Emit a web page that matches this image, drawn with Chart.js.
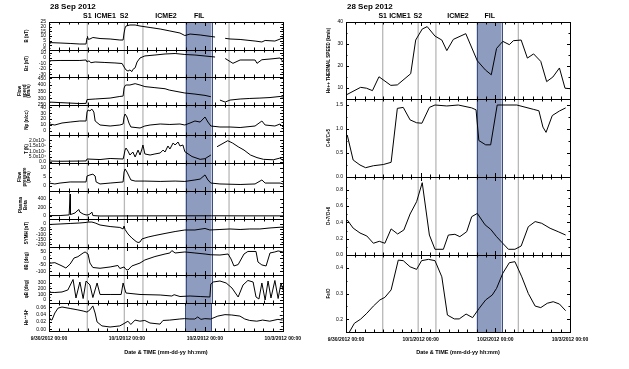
<!DOCTYPE html>
<html>
<head>
<meta charset="utf-8">
<script src="https://cdn.jsdelivr.net/npm/chart.js@4.4.1/dist/chart.umd.min.js"></script>
<style>
  body { margin: 0; background: #fff; width: 629px; height: 369px; overflow: hidden; position: relative; }
  .p { position: absolute; }
</style>
</head>
<body>
<script>
// hours since 9/30/2012 00:00
const xTickLabels = ['9/30/2012 00:00', '10/1/2012 00:00', '10/2/2012 00:00', '10/3/2012 00:00'];
const dateTitle = '28 Sep 2012';
const headLabels = ['S1', 'ICME1', 'S2', 'ICME2', 'FIL'];
const headHours = [11.8, 17.3, 23.1, 36, 46.2];
const eventLines = [11.8, 23.2, 28.9, 55.4];
const filSpan = [42, 50];

// left column
const bT = [0, 3.4, 6.5, 9.5, 11.4, 11.7, 11.85, 12, 12.6, 13.5, 15.7, 18.8, 21.8, 22.8, 23.1, 23.4, 23.7, 24.9, 26.5, 28, 31.1, 34.2, 37.2, 40.3, 41.8, 43.4, 46.5, 49.8, 51.1, 52, 54.2, 55.7, 58.8, 63.4, 65.5, 66.5, 69.5, 72];
const bV = [3, 2.5, 2, 1.4, 1.4, 7.9, 9.5, 6.5, 6.8, 8.4, 7.3, 6.8, 5.7, 5.7, 13.2, 18.6, 20.7, 21.8, 21.8, 20.7, 19.1, 17.5, 15.4, 13.2, 10.5, 12.1, 11.1, 9.5, 8.9, null, 7.5, 6.8, 6.3, 4.6, 3.6, 5.2, 4.6, 7.9];
const bTicks = [-5, 0, 5, 10, 15, 20, 25];

const bzT = [0, 3.4, 9.5, 11.4, 11.7, 12.3, 12.9, 14.2, 17.2, 20.3, 22.5, 23.1, 23.7, 24.3, 24.9, 25.5, 25.8, 26.5, 27.1, 28, 29.5, 32.6, 35.7, 38.8, 41.8, 44.9, 48, 51.1, 52, 54.2, 56.6, 58.8, 63.4, 64, 65.5, 68, 71.1, 72];
const bzV = [-4.8, -4.4, -4.4, -3.5, -7.2, -5, -8.5, -7.2, -8.1, -9, -10, -16.5, -22, -24, -22, -25, -21, -18, -7.2, 0.2, 4, 5.7, 7.6, 8.5, 6.7, 5.7, 3.9, 2, null, -0.7, -9.7, -3.5, -3.5, -9.7, -3, -1.7, 0.2, -6.6];
const bzTicks = [-30, -20, -10, 0, 10];

const vT = [0, 3.4, 9.5, 11.4, 11.7, 14.2, 18.8, 21.8, 22.8, 23.1, 23.4, 23.7, 24.9, 26.5, 28, 29.5, 32.6, 35.7, 37, 41.8, 44.9, 48, 49.8, 51, 52.6, 54.2, 55.7, 58.8, 61.8, 64.9, 68, 71.1, 72];
const vV = [272, 268, 261, 262, 291, 295, 302, 314, 317, 377, 395, 400, 400, 410, 400, 388, 380, 372, 362, 340, 332, 322, 312, null, 287, 272, 287, 295, 299, 302, 306, 314, 310];
const vTicks = [250, 300, 350, 400, 450];

const npT = [0, 1.8, 4, 6.5, 9.5, 11.4, 11.7, 12, 12.6, 13.2, 13.8, 14.2, 15.7, 18.8, 21.8, 22.8, 23.1, 23.4, 24, 24.6, 25.2, 28, 29.5, 31.1, 34.2, 37.2, 40.3, 41.8, 43.4, 44.9, 46.5, 48, 48.9, 49.8, 52.6, 55.7, 58.8, 63.4, 65.5, 66.5, 69.5, 71.1, 72];
const npV = [11.7, 10, 13.4, 15, 16.8, 16.8, 32, 35.5, 34, 37, 32, 16.8, 10, 8.3, 10, 11.7, 23.6, 28.7, 23.6, 13.4, 6.6, 4.9, 8.3, 10, 11.7, 10.9, 11.7, 10, 13.4, 16.8, 15, 23.6, 15, 8.3, 6.6, 6.6, 5.7, 8.3, 16.8, 10, 8.3, 11.7, 6.6];
const npTicks = [0, 10, 20, 30, 40];

const tT = [0, 3.4, 9.5, 11.4, 11.7, 15.7, 18.8, 22.8, 23.1, 23.4, 23.7, 24.3, 24.9, 25.8, 26.5, 27.4, 28, 28.6, 28.9, 29.5, 31.1, 32.6, 34.2, 35.1, 35.7, 36.6, 37.2, 38.2, 38.8, 39.7, 40.3, 41.2, 41.8, 44, 46.5, 48, 49.8, 50.8, 51.7, 55, 56.5, 58.2, 60, 62, 64, 66, 69, 71, 72];
const tV = [8500, 6000, 8000, 9000, 27000, 22000, 32000, 27000, 64000, 110000, 129000, 101000, 64000, 92000, 46000, 110000, 64000, 120000, 157000, 74000, 64000, 74000, 83000, 110000, 92000, 148000, 120000, 176000, 157000, 185000, 148000, 157000, 95000, 50000, 24000, 30000, 64000, null, 141000, 197000, 175000, 141000, 110000, 64000, 40000, 24000, 20000, 35000, 15000];
const tTicks = [0, 50000, 100000, 150000, 200000];

const pT = [0, 1.8, 3.4, 6.5, 11.4, 11.7, 12.6, 13.5, 14.2, 14.5, 15.7, 18.8, 22.8, 23.1, 23.4, 24, 24.6, 25.2, 26.5, 29.5, 34.2, 38.8, 41.8, 44.9, 46.5, 48, 48.9, 49.8, 52.6, 58.8, 63.4, 65.5, 66.5, 71.1, 72];
const pV = [1.4, 0.9, 1.4, 2, 2, 5.3, 5.9, 6.3, 5.3, 2, 0.9, 1.4, 2, 7.5, 9.2, 7.5, 5.3, 3.1, 2.5, 2.5, 2.3, 2.5, 2.3, 3.1, 3.6, 5.9, 3.1, 1.4, 0.9, 0.6, 0.9, 3.1, 1.4, 1.4, 0.9];
const pTicks = [0, 5, 10];

const betaT = [0, 3.4, 6.2, 6.5, 6.6, 7.1, 8, 8.6, 9.2, 9.5, 10.5, 11.4, 12, 12.6, 13.2, 13.5, 15.7, 30, 50, 60, 72];
const betaV = [10, 10, 25, 510, 35, 45, 70, 115, 150, 90, 45, 25, 25, 45, 90, 10, 0, 3, 5, 3, 3];
const betaTicks = [0, 200, 400];

const symT = [0, 3.4, 6.5, 9.5, 11.4, 12, 13.2, 14.2, 15.7, 18.8, 21.8, 22.8, 23.1, 23.4, 24.3, 25.5, 26.8, 27.4, 28, 28.6, 30.5, 32.6, 35.7, 38.8, 41.8, 44.9, 48, 49.5, 52.6, 55.7, 58.8, 61.8, 64.9, 68, 72];
const symV = [-4, 1, 6, 11, 16, 20, 20, 11, -9, -24, -33, -48, -19, -53, -97, -137, -171, -181, -176, -146, -127, -112, -92, -73, -58, -58, -43, -58, -53, -48, -53, -48, -48, -38, -29];
const symTicks = [-200, -150, -100, -50, 0];

const thT = [0, 1.8, 4, 5.2, 6.5, 7.7, 8.9, 10.5, 11.1, 12, 12.6, 13.5, 15.7, 18.8, 21.2, 21.8, 23.1, 23.7, 24.3, 25.5, 28, 29.5, 32.6, 35.7, 37.2, 37.8, 38.8, 41.8, 44.9, 48, 49.8, 52.6, 55.1, 56, 56.9, 58.2, 60, 61.2, 63.7, 64.3, 65.5, 66.8, 68, 69.5, 70.5, 72];
const thV = [-38, -33, -59, -75, -44, 3.5, 14, 43, 51, 35, -36, -71, -77, -67, -55, -79, -67, -87, -91, -59, -36, -12, 15, 35, 43, 62, 43, 51, 43, 35, 29, 27, 35, -4, -59, -48, 35, 55, 55, -28, -51, -59, 43, 51, 59, 51];
const thTicks = [-100, -50, 0, 50];

const phT = [0, 1.8, 4, 5.8, 7.4, 8.3, 9.5, 10.5, 11.4, 12.6, 13.5, 14.8, 15.7, 18.8, 22.2, 22.8, 23.4, 23.7, 28, 34.2, 37.8, 38.5, 40.3, 43.4, 46.5, 49.5, 49.8, 50.5, 52.6, 54.5, 56.3, 58.2, 59.7, 61.2, 62.8, 63.7, 64.6, 65.5, 66.5, 67.4, 68.3, 69.5, 70.5, 71.4, 72];
const phV = [133, 130, 139, 173, 353, 36, 310, 27, 327, 259, 44, 293, 96, 96, 96, 293, 173, 121, 96, 87, 70, 92, 61, 70, 61, 53, 276, 310, 327, 293, 207, 53, 259, 336, 310, 53, 19, 293, 1, 327, 36, 336, 27, 293, 173];
const phTicks = [0, 100, 200, 300];

const heT = [0, 0.9, 1.8, 2.8, 4, 6.5, 8.9, 10.5, 11.7, 12.6, 13.5, 14.2, 14.8, 16.3, 18.8, 21.8, 23.4, 24.3, 25.2, 26.5, 28, 29.5, 31.1, 34.2, 35.1, 37.2, 40.3, 41.8, 43.4, 44.9, 45.8, 46.8, 48, 49.8, 52, 54.2, 56.3, 58.8, 60.3, 61.8, 64, 65.8, 68, 70.5, 72];
const heV = [0.028, 0.025, 0.0445, 0.058, 0.061, 0.057, 0.053, 0.05, 0.047, 0.053, 0.064, 0.0445, 0.02, 0.009, 0.006, 0.009, 0.017, 0.022, 0.013, 0.025, 0.022, 0.024, 0.017, 0.014, 0.024, 0.025, 0.028, 0.029, 0.028, 0.028, 0.0335, 0.027, 0.029, 0.028, 0.036, 0.04, 0.039, 0.036, 0.028, 0.024, 0.022, 0.025, 0.022, 0.027, 0.025];
const heTicks = [0, 0.02, 0.04, 0.06];

// right column
const thermT = [0, 4.7, 6.6, 8.5, 10.6, 14.4, 16.5, 20.8, 22.4, 24.5, 26.1, 28.6, 30.8, 32.4, 34.5, 38.5, 42.2, 44.8, 46.7, 48.4, 50.4, 52.5, 53.8, 56.3, 58.3, 60.3, 62.6, 64.5, 66.5, 68.6, 70.4, 72];
const thermV = [6.8, 10.3, 9.9, 8.8, 15.1, 11.2, 11.4, 16.5, 31.8, 36.8, 37.9, 33.6, 31.8, 27, 32.1, 34.7, 22.4, 18.2, 16, 28, 31.2, 29.7, 31.5, 31.8, 23.6, 25.5, 22.1, 12.9, 15, 19.1, 9.9, 9.7];
const thermTicks = [10, 20, 30, 40];

const cT = [0.4, 2.3, 4.5, 6.3, 8.8, 12, 14.5, 16.5, 18.4, 20.6, 22.7, 24.4, 26.8, 28.6, 32.4, 36.1, 40.4, 41.8, 42.7, 44.9, 46.5, 48.6, 54.9, 60.2, 62, 63.3, 64.3, 66.3, 68.6, 70.6];
const cV = [0.875, 0.354, 0.25, 0.194, 0.235, 0.26, 0.306, 1.43, 1.45, 1.19, 1.13, 1.12, 1.45, 1.5, 1.48, 1.5, 1.44, 1.4, 0.76, 0.67, 0.67, 1.5, 1.5, 1.41, 1.38, 1.04, 0.93, 1.28, 1.375, 1.44];
const cTicks = [0, 0.5, 1, 1.5];

const oT = [0.4, 2.3, 4.5, 6.7, 8.8, 10.7, 12.5, 14.5, 16.6, 18.6, 20.6, 22.7, 24.5, 26.8, 28.6, 31.3, 32.9, 35, 36.6, 38.8, 40.4, 42.2, 44.7, 46.5, 48.4, 50.2, 52.2, 54.3, 56.3, 58.6, 60.8, 62.9, 65.6, 68.2, 70.6];
const oV = [0.43, 0.33, 0.27, 0.233, 0.144, 0.168, 0.144, 0.32, 0.258, 0.307, 0.503, 0.654, 0.887, 0.245, 0.07, 0.07, 0.245, 0.254, 0.225, 0.286, 0.47, 0.51, 0.37, 0.315, 0.225, 0.151, 0.07, 0.07, 0.11, 0.347, 0.41, 0.389, 0.328, 0.286, 0.245];
const oTicks = [0, 0.2, 0.4, 0.6, 0.8];

const feT = [0.3, 1, 2.7, 4.7, 6.7, 8.8, 10.9, 12.5, 14.5, 16.8, 18.4, 20.6, 22.7, 24.3, 26.5, 28.6, 30.8, 32.6, 34.8, 36.4, 38.6, 40.7, 42.8, 44.9, 47, 48.4, 50.4, 52.5, 54.3, 56.5, 58.6, 60.8, 62.6, 64.7, 66.6, 68.6, 70.6];
const feV = [0.13, 0.148, 0.184, 0.2, 0.223, 0.251, 0.275, 0.285, 0.314, 0.43, 0.428, 0.404, 0.394, 0.428, 0.433, 0.428, 0.365, 0.216, 0.201, 0.201, 0.22, 0.206, 0.242, 0.275, 0.294, 0.32, 0.379, 0.42, 0.424, 0.365, 0.3, 0.251, 0.245, 0.262, 0.268, 0.259, 0.233];
const feTicks = [0.2, 0.3, 0.4];

Chart.defaults.font.family = '"Liberation Sans", Arial, sans-serif';
Chart.defaults.color = '#000';

const decor = {
  id: 'decor',
  beforeDatasetsDraw(chart) {
    const { ctx, chartArea: a } = chart;
    const x = chart.scales.x;
    const f0 = x.getPixelForValue(filSpan[0]);
    const f1 = x.getPixelForValue(filSpan[1]);
    ctx.save();
    ctx.fillStyle = '#8e9cc0';
    ctx.fillRect(f0, a.top, f1 - f0, a.bottom - a.top);
    ctx.strokeStyle = '#3b4c7e';
    ctx.lineWidth = 1;
    ctx.beginPath();
    [f0, f1].forEach(px => {
      ctx.moveTo(Math.round(px) + 0.5, a.top);
      ctx.lineTo(Math.round(px) + 0.5, a.bottom);
    });
    ctx.stroke();
    ctx.strokeStyle = '#b8b8b8';
    ctx.lineWidth = 1.3;
    ctx.beginPath();
    eventLines.forEach(h => {
      const px = x.getPixelForValue(h);
      ctx.moveTo(px, a.top);
      ctx.lineTo(px, a.bottom);
    });
    ctx.stroke();
    ctx.restore();
  },
  afterDatasetsDraw(chart) {
    const { ctx, chartArea: a } = chart;
    const x = chart.scales.x, y = chart.scales.y;
    ctx.save();
    ctx.strokeStyle = '#000';
    ctx.lineWidth = 1;
    ctx.strokeRect(Math.round(a.left) + 0.5, Math.round(a.top) + 0.5, Math.round(a.right - a.left), Math.round(a.bottom - a.top));
    ctx.beginPath();
    for (let h = 0; h <= 72; h += 3) {
      const px = Math.round(x.getPixelForValue(h)) + 0.5;
      const len = h % 24 === 0 ? 4 : 2.5;
      ctx.moveTo(px, a.top); ctx.lineTo(px, a.top + len);
      ctx.moveTo(px, a.bottom); ctx.lineTo(px, a.bottom - len);
    }
    const tv = y.ticks.map(t => t.value);
    tv.forEach((v, i) => {
      const py = Math.round(y.getPixelForValue(v)) + 0.5;
      ctx.moveTo(a.left, py); ctx.lineTo(a.left + 3, py);
      ctx.moveTo(a.right, py); ctx.lineTo(a.right - 3, py);
      if (i > 0) {
        const pm = Math.round(y.getPixelForValue((v + tv[i - 1]) / 2)) + 0.5;
        ctx.moveTo(a.left, pm); ctx.lineTo(a.left + 1.5, pm);
        ctx.moveTo(a.right, pm); ctx.lineTo(a.right - 1.5, pm);
      }
    });
    ctx.stroke();
    ctx.restore();
  },
  afterDraw(chart, args, opts) {
    if (!opts.header) return;
    const { ctx, chartArea: a } = chart;
    const x = chart.scales.x;
    ctx.save();
    ctx.fillStyle = '#000';
    ctx.textBaseline = 'middle';
    ctx.textAlign = 'left';
    ctx.font = 'bold 8px "Liberation Sans", Arial, sans-serif';
    ctx.fillText(dateTitle, a.left + 1, 7);
    ctx.font = 'bold 7px "Liberation Sans", Arial, sans-serif';
    ctx.textAlign = 'center';
    headLabels.forEach((s, i) => ctx.fillText(s, x.getPixelForValue(headHours[i]), 16));
    ctx.restore();
  }
};

function addPanel(p) {
  const padTop = p.head ? p.top : 6;
  const xh = p.last ? 369 - p.bottom : 0;
  const padBot = p.last ? 0 : 6;
  const h = (p.bottom - p.top) + padTop + (p.last ? xh : padBot);
  const div = document.createElement('div');
  div.className = 'p';
  div.style.left = p.left + 'px';
  div.style.top = (p.top - padTop) + 'px';
  div.style.width = p.width + 'px';
  div.style.height = h + 'px';
  const cv = document.createElement('canvas');
  div.appendChild(cv);
  document.body.appendChild(div);

  new Chart(cv, {
    type: 'line',
    data: {
      datasets: [{
        data: p.times.map((t, i) => ({ x: t, y: p.vals[i] })),
        borderColor: '#000',
        borderWidth: 1,
        pointRadius: 0,
        tension: 0,
        spanGaps: false
      }]
    },
    options: {
      responsive: true,
      maintainAspectRatio: false,
      animation: false,
      devicePixelRatio: 1,
      layout: { padding: { top: padTop, bottom: padBot, left: 0, right: p.padR } },
      plugins: {
        legend: { display: false },
        tooltip: { enabled: false },
        decor: { header: !!p.head }
      },
      scales: {
        x: {
          type: 'linear', min: 0, max: 72,
          display: !!p.last,
          grid: { display: false, drawTicks: false },
          border: { display: false },
          afterBuildTicks: s => { s.ticks = xTickLabels.map((l, i) => ({ value: i * 24 })); },
          ticks: {
            autoSkip: false, maxRotation: 0, padding: 5,
            font: { size: 5, weight: 'bold' },
            callback: (v, i) => xTickLabels[i]
          },
          title: {
            display: true, text: 'Date & TIME (mm-dd-yy hh:mm)',
            font: { size: 5.5, weight: 'bold' }, padding: { top: 0, bottom: 13 }
          },
          afterFit: s => { if (p.last) s.height = xh; }
        },
        y: {
          type: 'linear', min: p.min, max: p.max,
          grid: { display: false, drawTicks: false },
          border: { display: false },
          afterBuildTicks: s => { s.ticks = p.ticks.map(v => ({ value: v })); },
          ticks: {
            autoSkip: false, padding: 3,
            font: { size: 5 },
            callback: p.fmt || (v => v)
          },
          title: {
            display: true, text: p.title,
            font: { size: 4.5, weight: 'bold', lineHeight: 1 },
            padding: { top: p.titlePad, bottom: 0 }
          },
          afterFit: s => { s.width = p.yw; }
        }
      }
    },
    plugins: [decor]
  });
}

const fmtT = v => v === 0 ? '0.0' : v < 100000 ? (v / 10000).toFixed(1) + 'x10\u2074' : (v / 100000).toFixed(1) + 'x10\u2075';
const fmt1 = v => v.toFixed(1);
const fmt2 = v => v.toFixed(2);

const L = { left: 0, width: 306, yw: 49, padR: 23 };
const R = { left: 300, width: 329, yw: 46, padR: 59 };

const leftPanels = [
  { top: 22, bottom: 50, times: bT, vals: bV, ticks: bTicks, min: -5, max: 25, title: 'B (nT)', titlePad: 25, head: true },
  { top: 50, bottom: 77, times: bzT, vals: bzV, ticks: bzTicks, min: -35, max: 15, title: 'Bz (nT)', titlePad: 25 },
  { top: 77, bottom: 105, times: vT, vals: vV, ticks: vTicks, min: 250, max: 460, title: ['Flow', 'speed', '(km/s)'], titlePad: 18 },
  { top: 105, bottom: 135, times: npT, vals: npV, ticks: npTicks, min: -7, max: 44, title: 'Np (n/cc)', titlePad: 25 },
  { top: 135, bottom: 163, times: tT, vals: tV, ticks: tTicks, min: -10000, max: 250000, title: 'T (K)', titlePad: 25, fmt: fmtT },
  { top: 163, bottom: 191, times: pT, vals: pV, ticks: pTicks, min: -3, max: 12.5, title: ['Flow', 'pressure', '(nPa)'], titlePad: 18 },
  { top: 191, bottom: 219, times: betaT, vals: betaV, ticks: betaTicks, min: -70, max: 580, title: ['Plasma', 'Beta'], titlePad: 19 },
  { top: 219, bottom: 247, times: symT, vals: symV, ticks: symTicks, min: -225, max: 50, title: 'SYMH (nT)', titlePad: 25 },
  { top: 247, bottom: 275, times: thT, vals: thV, ticks: thTicks, min: -130, max: 90, title: '\u03b8B (deg)', titlePad: 25 },
  { top: 275, bottom: 303, times: phT, vals: phV, ticks: phTicks, min: -50, max: 430, title: '\u03c6B (deg)', titlePad: 25 },
  { top: 303, bottom: 331, times: heT, vals: heV, ticks: heTicks, min: -0.005, max: 0.072, title: 'He\u207a\u207a/H\u207a', titlePad: 25, fmt: fmt2, last: true }
];

const rightPanels = [
  { top: 22, bottom: 99, times: thermT, vals: thermV, ticks: thermTicks, min: 5, max: 40, title: 'He++ THERMAL SPEED (km/s)', titlePad: 27, head: true },
  { top: 99, bottom: 177, times: cT, vals: cV, ticks: cTicks, min: 0, max: 1.625, title: 'C+6/C+5', titlePad: 27, fmt: fmt1 },
  { top: 177, bottom: 255, times: oT, vals: oV, ticks: oTicks, min: 0, max: 0.957, title: 'O+7/O+6', titlePad: 27, fmt: fmt1 },
  { top: 255, bottom: 332, times: feT, vals: feV, ticks: feTicks, min: 0.15, max: 0.45, title: 'Fe/O', titlePad: 27, fmt: fmt1, last: true }
];

leftPanels.forEach(p => addPanel(Object.assign({}, L, p)));
rightPanels.forEach(p => addPanel(Object.assign({}, R, p)));
</script>
</body>
</html>
